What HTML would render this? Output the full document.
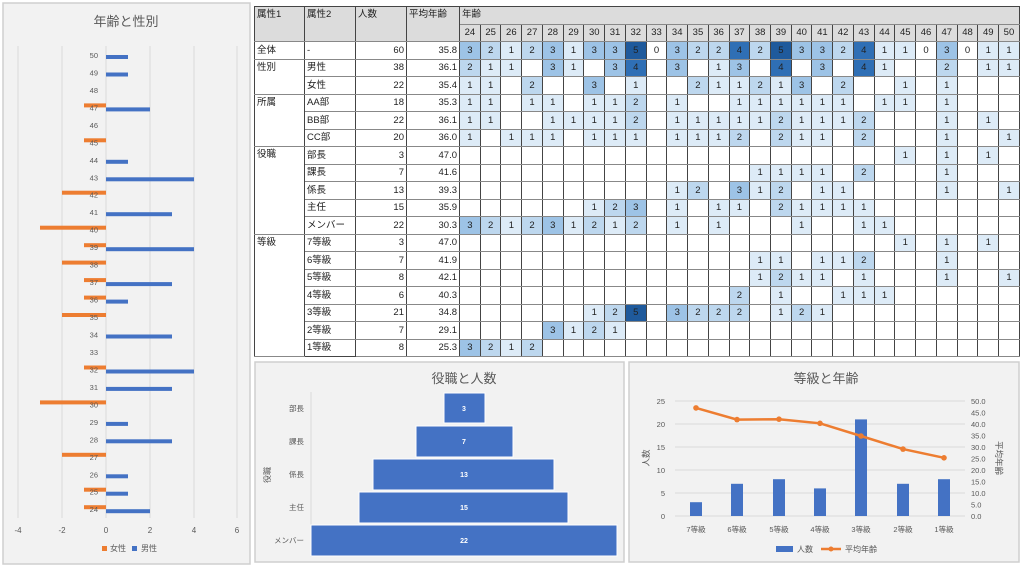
<!DOCTYPE html>
<html><head><meta charset="utf-8"><style>
body{margin:0;width:1024px;height:568px;background:#fff;position:relative;overflow:hidden;font-family:"Liberation Sans","Noto Sans CJK JP",sans-serif;}
svg{position:absolute;left:0;top:0}
table{position:absolute;left:254px;top:6px;border-collapse:collapse;table-layout:fixed;font-size:9.5px;color:#222}
td{padding:0 2px;height:16.5px;border-left:1px solid #444;border-right:1px solid #444;border-top:1px solid #888;border-bottom:1px solid #888;white-space:nowrap;overflow:hidden;line-height:15px}
td.g{border-top:1.5px solid #222}
td.d{border-top:1px dotted #999}
.h{background:#dcdcdc;vertical-align:top}
.r{text-align:right}
.a td{text-align:center;padding:0}
.a td.r{text-align:right;padding-right:2px}
.b1{background:#ddebf7}.b2{background:#bdd7ee}.b3{background:#9dc3e6}.b4{background:#2f6fb5}.b5{background:#1f5a9c}
</style></head><body>
<svg width="1024" height="568" font-family="Liberation Sans, Noto Sans CJK JP, sans-serif">
<rect x="3" y="3" width="247" height="561" fill="#f2f2f2" stroke="#cfcfcf" stroke-width="1.5"/>
<text x="126" y="26" font-size="13" fill="#595959" text-anchor="middle">年齢と性別</text>
<g stroke="#dadada" stroke-width="1">
<line x1="18" y1="46" x2="18" y2="518"/><line x1="62" y1="46" x2="62" y2="518"/><line x1="106" y1="46" x2="106" y2="518"/><line x1="150" y1="46" x2="150" y2="518"/><line x1="194" y1="46" x2="194" y2="518"/><line x1="237" y1="46" x2="237" y2="518"/>
</g>
<g font-size="8" fill="#595959" text-anchor="middle">
<text x="18" y="533">-4</text><text x="62" y="533">-2</text><text x="106" y="533">0</text><text x="150" y="533">2</text><text x="194" y="533">4</text><text x="237" y="533">6</text>
</g>
<g fill="#4472c4">
<rect x="106" y="55" width="22" height="4"/><rect x="106" y="72.5" width="22" height="4"/><rect x="106" y="107.4" width="44" height="4"/><rect x="106" y="159.8" width="22" height="4"/><rect x="106" y="177.3" width="88" height="4"/><rect x="106" y="212.2" width="66" height="4"/><rect x="106" y="247.2" width="88" height="4"/><rect x="106" y="282.1" width="66" height="4"/><rect x="106" y="299.6" width="22" height="4"/><rect x="106" y="334.5" width="66" height="4"/><rect x="106" y="369.5" width="88" height="4"/><rect x="106" y="386.9" width="66" height="4"/><rect x="106" y="421.9" width="22" height="4"/><rect x="106" y="439.3" width="66" height="4"/><rect x="106" y="474.3" width="22" height="4"/><rect x="106" y="491.7" width="22" height="4"/><rect x="106" y="509.2" width="44" height="4"/>
</g>
<g fill="#ed7d31">
<rect x="84" y="103.4" width="22" height="4"/><rect x="84" y="138.3" width="22" height="4"/><rect x="62" y="190.7" width="44" height="4"/><rect x="40" y="225.7" width="66" height="4"/><rect x="84" y="243.2" width="22" height="4"/><rect x="62" y="260.6" width="44" height="4"/><rect x="84" y="278.1" width="22" height="4"/><rect x="84" y="295.6" width="22" height="4"/><rect x="62" y="313" width="44" height="4"/><rect x="84" y="365.5" width="22" height="4"/><rect x="40" y="400.4" width="66" height="4"/><rect x="62" y="452.8" width="44" height="4"/><rect x="84" y="487.7" width="22" height="4"/><rect x="84" y="505.2" width="22" height="4"/>
</g>
<g font-size="7.5" fill="#595959" text-anchor="end">
<text x="98" y="58">50</text><text x="98" y="75.5">49</text><text x="98" y="93">48</text><text x="98" y="110.4">47</text><text x="98" y="127.9">46</text><text x="98" y="145.3">45</text><text x="98" y="162.8">44</text><text x="98" y="180.3">43</text><text x="98" y="197.7">42</text><text x="98" y="215.2">41</text><text x="98" y="232.7">40</text><text x="98" y="250.2">39</text><text x="98" y="267.6">38</text><text x="98" y="285.1">37</text><text x="98" y="302.6">36</text><text x="98" y="320">35</text><text x="98" y="337.5">34</text><text x="98" y="355">33</text><text x="98" y="372.5">32</text><text x="98" y="389.9">31</text><text x="98" y="407.4">30</text><text x="98" y="424.9">29</text><text x="98" y="442.3">28</text><text x="98" y="459.8">27</text><text x="98" y="477.3">26</text><text x="98" y="494.7">25</text><text x="98" y="512.2">24</text>
</g>
<rect x="102" y="546" width="5" height="5" fill="#ed7d31"/><text x="110" y="551" font-size="8" fill="#595959">女性</text>
<rect x="132" y="546" width="5" height="5" fill="#4472c4"/><text x="141" y="551" font-size="8" fill="#595959">男性</text>

<rect x="255" y="362" width="369" height="200" fill="#f2f2f2" stroke="#cfcfcf" stroke-width="1.5"/>
<text x="464" y="383" font-size="13" fill="#595959" text-anchor="middle">役職と人数</text>
<line x1="311" y1="392" x2="311" y2="557" stroke="#d9d9d9"/>
<g fill="#4472c4" stroke="#fff" stroke-width="1">
<rect x="444" y="393" width="41" height="30"/><rect x="416" y="426" width="97" height="31"/><rect x="373" y="459" width="181" height="31"/><rect x="359" y="492" width="209" height="31"/><rect x="311" y="525" width="306" height="31"/>
</g>
<g font-size="7" fill="#fff" font-weight="bold" text-anchor="middle">
<text x="464" y="411">3</text><text x="464" y="444">7</text><text x="464" y="477">13</text><text x="464" y="510">15</text><text x="464" y="543">22</text>
</g>
<g font-size="7.5" fill="#595959" text-anchor="end">
<text x="304" y="411">部長</text><text x="304" y="444">課長</text><text x="304" y="477">係長</text><text x="304" y="510">主任</text><text x="304" y="543">メンバー</text>
</g>
<text transform="translate(270,475) rotate(-90)" font-size="8" fill="#595959" text-anchor="middle">役職</text>

<rect x="629" y="362" width="390" height="200" fill="#f2f2f2" stroke="#cfcfcf" stroke-width="1.5"/>
<text x="826" y="383" font-size="13" fill="#595959" text-anchor="middle">等級と年齢</text>
<g stroke="#d9d9d9">
<line x1="675" y1="516" x2="965" y2="516"/><line x1="675" y1="493" x2="965" y2="493"/><line x1="675" y1="470" x2="965" y2="470"/><line x1="675" y1="447" x2="965" y2="447"/><line x1="675" y1="424" x2="965" y2="424"/><line x1="675" y1="401" x2="965" y2="401"/>
</g>
<g font-size="7.5" fill="#595959" text-anchor="end">
<text x="665" y="519">0</text><text x="665" y="496">5</text><text x="665" y="473">10</text><text x="665" y="450">15</text><text x="665" y="427">20</text><text x="665" y="404">25</text>
</g>
<g font-size="7.5" fill="#595959">
<text x="971" y="519">0.0</text><text x="971" y="507.5">5.0</text><text x="971" y="496">10.0</text><text x="971" y="484.5">15.0</text><text x="971" y="473">20.0</text><text x="971" y="461.5">25.0</text><text x="971" y="450">30.0</text><text x="971" y="438.5">35.0</text><text x="971" y="427">40.0</text><text x="971" y="415.5">45.0</text><text x="971" y="404">50.0</text>
</g>
<g fill="#4472c4">
<rect x="690" y="502.2" width="12" height="13.8"/><rect x="731" y="483.8" width="12" height="32.2"/><rect x="773" y="479.2" width="12" height="36.8"/><rect x="814" y="488.4" width="12" height="27.6"/><rect x="855" y="419.4" width="12" height="96.6"/><rect x="897" y="483.8" width="12" height="32.2"/><rect x="938" y="479.2" width="12" height="36.8"/>
</g>
<polyline points="696,407.9 737,419.6 779,419.2 820,423.3 861,436 903,449.1 944,457.8" fill="none" stroke="#ed7d31" stroke-width="2.5"/>
<g fill="#ed7d31">
<circle cx="696" cy="407.9" r="2.8"/><circle cx="737" cy="419.6" r="2.8"/><circle cx="779" cy="419.2" r="2.8"/><circle cx="820" cy="423.3" r="2.8"/><circle cx="861" cy="436" r="2.8"/><circle cx="903" cy="449.1" r="2.8"/><circle cx="944" cy="457.8" r="2.8"/>
</g>
<g font-size="7.5" fill="#595959" text-anchor="middle">
<text x="696" y="532">7等級</text><text x="737" y="532">6等級</text><text x="779" y="532">5等級</text><text x="820" y="532">4等級</text><text x="861" y="532">3等級</text><text x="903" y="532">2等級</text><text x="944" y="532">1等級</text>
</g>
<text transform="translate(649,458) rotate(-90)" font-size="8.5" fill="#595959" text-anchor="middle">人数</text>
<text transform="translate(996,458) rotate(90)" font-size="8.5" fill="#595959" text-anchor="middle">平均年齢</text>
<rect x="776" y="546" width="17" height="6" fill="#4472c4"/><text x="797" y="552" font-size="8" fill="#595959">人数</text>
<line x1="821" y1="549" x2="841" y2="549" stroke="#ed7d31" stroke-width="2.5"/><circle cx="831" cy="549" r="2.5" fill="#ed7d31"/><text x="845" y="552" font-size="8" fill="#595959">平均年齢</text>
</svg>

<table>
<colgroup><col style="width:50px"><col style="width:51px"><col style="width:51px"><col style="width:53px"><col span="27" style="width:20.74px"></colgroup>
<tr><td class="h" rowspan="2" style="border-top:1px solid #444">属性1</td><td class="h" rowspan="2" style="border-top:1px solid #444">属性2</td><td class="h" rowspan="2" style="border-top:1px solid #444">人数</td><td class="h" rowspan="2" style="border-top:1px solid #444">平均年齢</td><td class="h" colspan="27" style="border-top:1px solid #444">年齢</td></tr>
<tr class="a h"><td>24</td><td>25</td><td>26</td><td>27</td><td>28</td><td>29</td><td>30</td><td>31</td><td>32</td><td>33</td><td>34</td><td>35</td><td>36</td><td>37</td><td>38</td><td>39</td><td>40</td><td>41</td><td>42</td><td>43</td><td>44</td><td>45</td><td>46</td><td>47</td><td>48</td><td>49</td><td>50</td></tr>
<tr class="a"><td class="g" style="text-align:left;padding-left:2px">全体</td><td class="g" style="text-align:left;padding-left:2px">-</td><td class="g r">60</td><td class="g r">35.8</td><td class="g b3">3</td><td class="g b2">2</td><td class="g b1">1</td><td class="g b2">2</td><td class="g b3">3</td><td class="g b1">1</td><td class="g b3">3</td><td class="g b3">3</td><td class="g b5">5</td><td class="g">0</td><td class="g b3">3</td><td class="g b2">2</td><td class="g b2">2</td><td class="g b4">4</td><td class="g b2">2</td><td class="g b5">5</td><td class="g b3">3</td><td class="g b3">3</td><td class="g b2">2</td><td class="g b4">4</td><td class="g b1">1</td><td class="g b1">1</td><td class="g">0</td><td class="g b3">3</td><td class="g">0</td><td class="g b1">1</td><td class="g b1">1</td></tr>
<tr class="a"><td class="g" rowspan="2" style="text-align:left;vertical-align:top;padding-left:2px">性別</td><td class="g" style="text-align:left;padding-left:2px">男性</td><td class="g r">38</td><td class="g r">36.1</td><td class="g b2">2</td><td class="g b1">1</td><td class="g b1">1</td><td class="g"></td><td class="g b3">3</td><td class="g b1">1</td><td class="g"></td><td class="g b3">3</td><td class="g b4">4</td><td class="g"></td><td class="g b3">3</td><td class="g"></td><td class="g b1">1</td><td class="g b3">3</td><td class="g"></td><td class="g b4">4</td><td class="g"></td><td class="g b3">3</td><td class="g"></td><td class="g b4">4</td><td class="g b1">1</td><td class="g"></td><td class="g"></td><td class="g b2">2</td><td class="g"></td><td class="g b1">1</td><td class="g b1">1</td></tr>
<tr class="a"><td class="d" style="text-align:left;padding-left:2px">女性</td><td class="d r">22</td><td class="d r">35.4</td><td class="b1">1</td><td class="b1">1</td><td></td><td class="b2">2</td><td></td><td></td><td class="b3">3</td><td></td><td class="b1">1</td><td></td><td></td><td class="b2">2</td><td class="b1">1</td><td class="b1">1</td><td class="b2">2</td><td class="b1">1</td><td class="b3">3</td><td></td><td class="b2">2</td><td></td><td></td><td class="b1">1</td><td></td><td class="b1">1</td><td></td><td></td><td></td></tr>
<tr class="a"><td class="g" rowspan="3" style="text-align:left;vertical-align:top;padding-left:2px">所属</td><td class="g" style="text-align:left;padding-left:2px">AA部</td><td class="g r">18</td><td class="g r">35.3</td><td class="g b1">1</td><td class="g b1">1</td><td class="g"></td><td class="g b1">1</td><td class="g b1">1</td><td class="g"></td><td class="g b1">1</td><td class="g b1">1</td><td class="g b2">2</td><td class="g"></td><td class="g b1">1</td><td class="g"></td><td class="g"></td><td class="g b1">1</td><td class="g b1">1</td><td class="g b1">1</td><td class="g b1">1</td><td class="g b1">1</td><td class="g b1">1</td><td class="g"></td><td class="g b1">1</td><td class="g b1">1</td><td class="g"></td><td class="g b1">1</td><td class="g"></td><td class="g"></td><td class="g"></td></tr>
<tr class="a"><td class="d" style="text-align:left;padding-left:2px">BB部</td><td class="d r">22</td><td class="d r">36.1</td><td class="b1">1</td><td class="b1">1</td><td></td><td></td><td class="b1">1</td><td class="b1">1</td><td class="b1">1</td><td class="b1">1</td><td class="b2">2</td><td></td><td class="b1">1</td><td class="b1">1</td><td class="b1">1</td><td class="b1">1</td><td class="b1">1</td><td class="b2">2</td><td class="b1">1</td><td class="b1">1</td><td class="b1">1</td><td class="b2">2</td><td></td><td></td><td></td><td class="b1">1</td><td></td><td class="b1">1</td><td></td></tr>
<tr class="a"><td class="d" style="text-align:left;padding-left:2px">CC部</td><td class="d r">20</td><td class="d r">36.0</td><td class="b1">1</td><td></td><td class="b1">1</td><td class="b1">1</td><td class="b1">1</td><td></td><td class="b1">1</td><td class="b1">1</td><td class="b1">1</td><td></td><td class="b1">1</td><td class="b1">1</td><td class="b1">1</td><td class="b2">2</td><td></td><td class="b2">2</td><td class="b1">1</td><td class="b1">1</td><td></td><td class="b2">2</td><td></td><td></td><td></td><td class="b1">1</td><td></td><td></td><td class="b1">1</td></tr>
<tr class="a"><td class="g" rowspan="5" style="text-align:left;vertical-align:top;padding-left:2px">役職</td><td class="g" style="text-align:left;padding-left:2px">部長</td><td class="g r">3</td><td class="g r">47.0</td><td class="g"></td><td class="g"></td><td class="g"></td><td class="g"></td><td class="g"></td><td class="g"></td><td class="g"></td><td class="g"></td><td class="g"></td><td class="g"></td><td class="g"></td><td class="g"></td><td class="g"></td><td class="g"></td><td class="g"></td><td class="g"></td><td class="g"></td><td class="g"></td><td class="g"></td><td class="g"></td><td class="g"></td><td class="g b1">1</td><td class="g"></td><td class="g b1">1</td><td class="g"></td><td class="g b1">1</td><td class="g"></td></tr>
<tr class="a"><td class="d" style="text-align:left;padding-left:2px">課長</td><td class="d r">7</td><td class="d r">41.6</td><td></td><td></td><td></td><td></td><td></td><td></td><td></td><td></td><td></td><td></td><td></td><td></td><td></td><td></td><td class="b1">1</td><td class="b1">1</td><td class="b1">1</td><td class="b1">1</td><td></td><td class="b2">2</td><td></td><td></td><td></td><td class="b1">1</td><td></td><td></td><td></td></tr>
<tr class="a"><td class="d" style="text-align:left;padding-left:2px">係長</td><td class="d r">13</td><td class="d r">39.3</td><td></td><td></td><td></td><td></td><td></td><td></td><td></td><td></td><td></td><td></td><td class="b1">1</td><td class="b2">2</td><td></td><td class="b3">3</td><td class="b1">1</td><td class="b2">2</td><td></td><td class="b1">1</td><td class="b1">1</td><td></td><td></td><td></td><td></td><td class="b1">1</td><td></td><td></td><td class="b1">1</td></tr>
<tr class="a"><td class="d" style="text-align:left;padding-left:2px">主任</td><td class="d r">15</td><td class="d r">35.9</td><td></td><td></td><td></td><td></td><td></td><td></td><td class="b1">1</td><td class="b2">2</td><td class="b3">3</td><td></td><td class="b1">1</td><td></td><td class="b1">1</td><td class="b1">1</td><td></td><td class="b2">2</td><td class="b1">1</td><td class="b1">1</td><td class="b1">1</td><td class="b1">1</td><td></td><td></td><td></td><td></td><td></td><td></td><td></td></tr>
<tr class="a"><td class="d" style="text-align:left;padding-left:2px">メンバー</td><td class="d r">22</td><td class="d r">30.3</td><td class="b3">3</td><td class="b2">2</td><td class="b1">1</td><td class="b2">2</td><td class="b3">3</td><td class="b1">1</td><td class="b2">2</td><td class="b1">1</td><td class="b2">2</td><td></td><td class="b1">1</td><td></td><td class="b1">1</td><td></td><td></td><td></td><td class="b1">1</td><td></td><td></td><td class="b1">1</td><td class="b1">1</td><td></td><td></td><td></td><td></td><td></td><td></td></tr>
<tr class="a"><td class="g" rowspan="7" style="text-align:left;vertical-align:top;padding-left:2px">等級</td><td class="g" style="text-align:left;padding-left:2px">7等級</td><td class="g r">3</td><td class="g r">47.0</td><td class="g"></td><td class="g"></td><td class="g"></td><td class="g"></td><td class="g"></td><td class="g"></td><td class="g"></td><td class="g"></td><td class="g"></td><td class="g"></td><td class="g"></td><td class="g"></td><td class="g"></td><td class="g"></td><td class="g"></td><td class="g"></td><td class="g"></td><td class="g"></td><td class="g"></td><td class="g"></td><td class="g"></td><td class="g b1">1</td><td class="g"></td><td class="g b1">1</td><td class="g"></td><td class="g b1">1</td><td class="g"></td></tr>
<tr class="a"><td class="d" style="text-align:left;padding-left:2px">6等級</td><td class="d r">7</td><td class="d r">41.9</td><td></td><td></td><td></td><td></td><td></td><td></td><td></td><td></td><td></td><td></td><td></td><td></td><td></td><td></td><td class="b1">1</td><td class="b1">1</td><td></td><td class="b1">1</td><td class="b1">1</td><td class="b2">2</td><td></td><td></td><td></td><td class="b1">1</td><td></td><td></td><td></td></tr>
<tr class="a"><td class="d" style="text-align:left;padding-left:2px">5等級</td><td class="d r">8</td><td class="d r">42.1</td><td></td><td></td><td></td><td></td><td></td><td></td><td></td><td></td><td></td><td></td><td></td><td></td><td></td><td></td><td class="b1">1</td><td class="b2">2</td><td class="b1">1</td><td class="b1">1</td><td></td><td class="b1">1</td><td></td><td></td><td></td><td class="b1">1</td><td></td><td></td><td class="b1">1</td></tr>
<tr class="a"><td class="d" style="text-align:left;padding-left:2px">4等級</td><td class="d r">6</td><td class="d r">40.3</td><td></td><td></td><td></td><td></td><td></td><td></td><td></td><td></td><td></td><td></td><td></td><td></td><td></td><td class="b2">2</td><td></td><td class="b1">1</td><td></td><td></td><td class="b1">1</td><td class="b1">1</td><td class="b1">1</td><td></td><td></td><td></td><td></td><td></td><td></td></tr>
<tr class="a"><td class="d" style="text-align:left;padding-left:2px">3等級</td><td class="d r">21</td><td class="d r">34.8</td><td></td><td></td><td></td><td></td><td></td><td></td><td class="b1">1</td><td class="b2">2</td><td class="b5">5</td><td></td><td class="b3">3</td><td class="b2">2</td><td class="b2">2</td><td class="b2">2</td><td></td><td class="b1">1</td><td class="b2">2</td><td class="b1">1</td><td></td><td></td><td></td><td></td><td></td><td></td><td></td><td></td><td></td></tr>
<tr class="a"><td class="d" style="text-align:left;padding-left:2px">2等級</td><td class="d r">7</td><td class="d r">29.1</td><td></td><td></td><td></td><td></td><td class="b3">3</td><td class="b1">1</td><td class="b2">2</td><td class="b1">1</td><td></td><td></td><td></td><td></td><td></td><td></td><td></td><td></td><td></td><td></td><td></td><td></td><td></td><td></td><td></td><td></td><td></td><td></td><td></td></tr>
<tr class="a"><td class="d" style="text-align:left;padding-left:2px;border-bottom:1px solid #444">1等級</td><td class="d r">8</td><td class="d r">25.3</td><td class="b3">3</td><td class="b2">2</td><td class="b1">1</td><td class="b2">2</td><td></td><td></td><td></td><td></td><td></td><td></td><td></td><td></td><td></td><td></td><td></td><td></td><td></td><td></td><td></td><td></td><td></td><td></td><td></td><td></td><td></td><td></td><td></td></tr>
</table>
</body></html>
